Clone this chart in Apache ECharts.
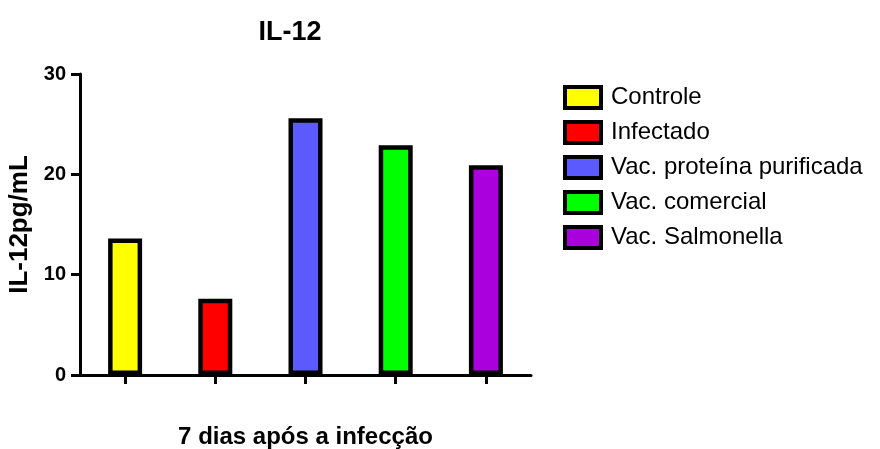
<!DOCTYPE html>
<html>
<head>
<meta charset="utf-8">
<script src="https://cdn.jsdelivr.net/npm/echarts@6/dist/echarts.min.js"></script>
<style>
  html, body { margin: 0; padding: 0; background: #fff; }
  #chart { width: 880px; height: 449px; }
</style>
</head>
<body>
<div id="chart"></div>
<script>
// grupos e valores (IL-12 pg/mL)
var groups = ['Controle', 'Infectado', 'Vac. proteína purificada', 'Vac. comercial', 'Vac. Salmonella'];
var values = [13.6, 7.6, 25.6, 22.9, 20.9];
var colors = ['#FFFF00', '#FF0000', '#5A5AFF', '#00FF00', '#AA00DD'];
var yTicks = [0, 10, 20, 30];

var font = '"Liberation Sans", Arial, sans-serif';

var myChart = echarts.init(document.getElementById('chart'));

// uma série por grupo para ter a legenda
var series = groups.map(function (name, i) {
    var data = groups.map(function (g, j) { return j === i ? values[i] : '-'; });
    return {
        name: name,
        type: 'bar',
        stack: 'g',
        barWidth: 34,
        data: data,
        itemStyle: {
            color: colors[i],
            borderColor: '#000',
            borderWidth: 4.5
        }
    };
});

var option = {
    animation: false,
    title: {
        text: 'IL-12',
        left: 285,
        top: 14,
        textAlign: 'center',
        textStyle: { fontFamily: font, fontSize: 27, fontWeight: 'bold', color: '#000' }
    },
    legend: {
        data: groups,
        orient: 'vertical',
        left: 558,
        top: 80,
        itemWidth: 36,
        itemHeight: 21,
        itemGap: 10,
        icon: 'rect',
        itemStyle: { borderColor: '#000', borderWidth: 4 },
        textStyle: { fontFamily: font, fontSize: 24, color: '#000', padding: [0, 0, 0, 5] }
    },
    grid: { left: 80, right: 349, top: 74, bottom: 74, outerBoundsMode: 'none' },
    xAxis: {
        type: 'category',
        data: groups,
        name: '7 dias após a infecção',
        nameLocation: 'middle',
        nameGap: 50,
        nameTextStyle: { fontFamily: font, fontSize: 24, fontWeight: 'bold', color: '#000' },
        axisLine: { lineStyle: { color: '#000', width: 3 } },
        axisTick: { show: true, interval: 0, alignWithLabel: true, length: 9, lineStyle: { color: '#000', width: 3 } },
        axisLabel: { show: true, interval: 0, formatter: function () { return ''; } }
    },
    yAxis: {
        type: 'value',
        min: yTicks[0],
        max: yTicks[yTicks.length - 1],
        interval: 10,
        name: 'IL-12pg/mL',
        nameLocation: 'middle',
        nameGap: 46,
        nameTextStyle: { fontFamily: font, fontSize: 26, fontWeight: 'bold', color: '#000' },
        splitLine: { show: false },
        axisLine: { show: true, lineStyle: { color: '#000', width: 3 } },
        axisTick: { show: true, length: 9, lineStyle: { color: '#000', width: 3 } },
        axisLabel: { fontFamily: font, fontSize: 20, fontWeight: 'bold', color: '#000', margin: 14 }
    },
    series: series
};

myChart.setOption(option);
</script>
</body>
</html>
